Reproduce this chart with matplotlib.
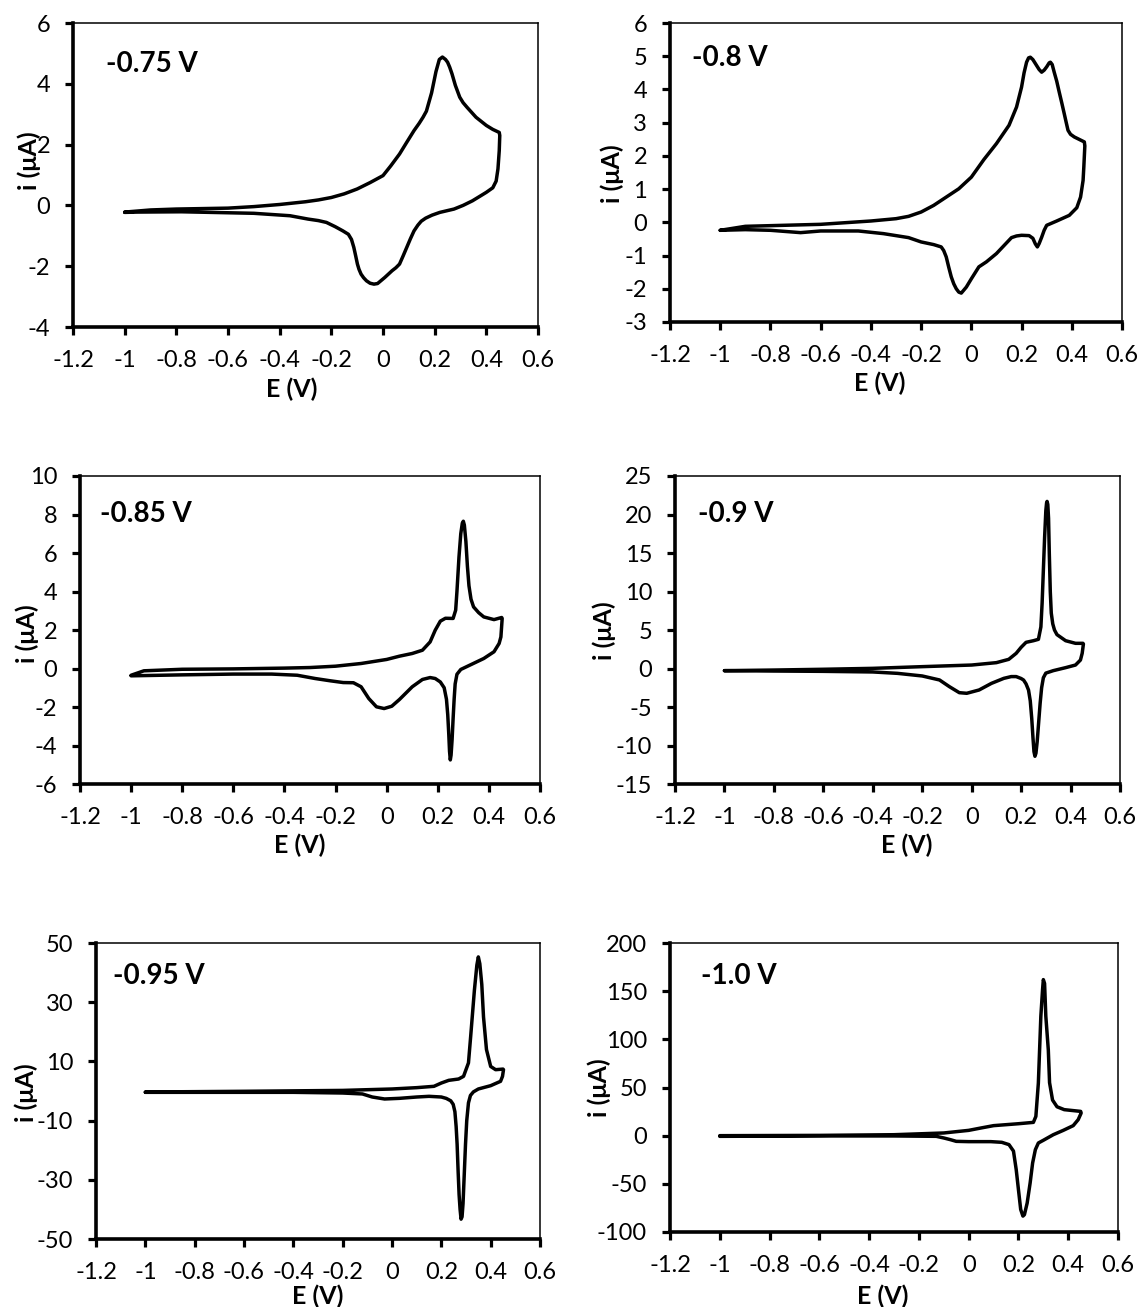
import matplotlib
matplotlib.use("Agg")
import matplotlib.pyplot as plt
from matplotlib.ticker import FuncFormatter, FixedLocator

plt.rcParams['font.family'] = ['Lato', 'DejaVu Sans']

# ---------------- data (E in V, i in uA), forward sweep then reverse sweep ----------------
labels = ["-0.75 V", "-0.8 V", "-0.85 V", "-0.9 V", "-0.95 V", "-1.0 V"]

e_075 = [-1.0, -0.9, -0.8, -0.6, -0.5, -0.4, -0.3, -0.25, -0.2, -0.15, -0.1, -0.05, 0.0, 0.03, 0.064, 0.09,
         0.12, 0.14, 0.155, 0.168, 0.176, 0.188, 0.198, 0.205, 0.218, 0.23, 0.242, 0.25, 0.258, 0.267, 0.28,
         0.297, 0.31, 0.325, 0.36, 0.4, 0.425, 0.45,
         0.452, 0.45, 0.445, 0.438, 0.425, 0.4, 0.375, 0.346, 0.31, 0.275, 0.245, 0.22, 0.19, 0.165, 0.148,
         0.135, 0.12, 0.106, 0.092, 0.078, 0.064, 0.05, 0.035, 0.007, -0.021, -0.035, -0.05, -0.064, -0.075,
         -0.085, -0.093, -0.099, -0.106, -0.113, -0.122, -0.134, -0.155, -0.185, -0.219, -0.25, -0.29, -0.36,
         -0.5, -0.78, -0.95, -1.0]
i_075 = [-0.22, -0.15, -0.12, -0.09, -0.04, 0.03, 0.12, 0.18, 0.26, 0.38, 0.54, 0.75, 0.98, 1.3, 1.69, 2.05,
         2.46, 2.7, 2.9, 3.1, 3.34, 3.7, 4.11, 4.4, 4.8, 4.88, 4.8, 4.71, 4.55, 4.33, 3.95,
         3.56, 3.38, 3.23, 2.9, 2.63, 2.5, 2.4,
         2.3, 1.8, 1.2, 0.8, 0.58, 0.43, 0.3, 0.15, 0.0, -0.12, -0.18, -0.23, -0.32, -0.42, -0.52,
         -0.65, -0.84, -1.1, -1.38, -1.66, -1.93, -2.05, -2.15, -2.37, -2.57, -2.59, -2.56, -2.48, -2.38,
         -2.26, -2.1, -1.93, -1.65, -1.38, -1.12, -0.95, -0.84, -0.7, -0.56, -0.5, -0.45, -0.34,
         -0.26, -0.21, -0.22, -0.23]

e_080 = [-1.0, -0.9, -0.6, -0.4, -0.3, -0.25, -0.2, -0.15, -0.1, -0.05, 0.0, 0.05, 0.1, 0.15, 0.18, 0.2,
         0.21, 0.22, 0.228, 0.235, 0.245, 0.26, 0.27, 0.28, 0.29, 0.3, 0.31, 0.315, 0.322, 0.33, 0.34, 0.35,
         0.36, 0.37, 0.378, 0.385, 0.395, 0.41, 0.45,
         0.452, 0.448, 0.445, 0.435, 0.42, 0.39, 0.34, 0.3, 0.29, 0.28, 0.27, 0.263, 0.255, 0.245, 0.23, 0.2,
         0.18, 0.16, 0.13, 0.1, 0.06, 0.03, 0.0, -0.02, -0.04, -0.05, -0.06, -0.07, -0.08, -0.09, -0.1, -0.11,
         -0.12, -0.15, -0.2, -0.25, -0.35, -0.45, -0.6, -0.68, -0.8, -0.9, -1.0]
i_080 = [-0.24, -0.12, -0.06, 0.04, 0.11, 0.18, 0.31, 0.51, 0.76, 1.01, 1.36, 1.89, 2.37, 2.92, 3.47, 4.07,
         4.5, 4.82, 4.95, 4.97, 4.9, 4.72, 4.6, 4.52, 4.58, 4.68, 4.8, 4.82, 4.75, 4.52, 4.25, 3.92,
         3.6, 3.27, 3.0, 2.77, 2.65, 2.57, 2.42,
         2.3, 1.67, 1.26, 0.76, 0.44, 0.21, 0.04, -0.09, -0.24, -0.45, -0.64, -0.74, -0.65, -0.48, -0.4, -0.39,
         -0.41, -0.46, -0.7, -0.94, -1.19, -1.34, -1.7, -1.95, -2.13, -2.1, -2.0, -1.85, -1.64, -1.35, -1.04, -0.85,
         -0.74, -0.67, -0.59, -0.46, -0.34, -0.26, -0.26, -0.31, -0.24, -0.22, -0.24]

e_085 = [-1.0, -0.95, -0.8, -0.6, -0.4, -0.3, -0.2, -0.1, 0.0, 0.05, 0.1, 0.14, 0.17, 0.19, 0.21, 0.23,
         0.26, 0.27, 0.275, 0.283, 0.29, 0.296, 0.3, 0.304, 0.31, 0.316, 0.322, 0.33, 0.34, 0.36, 0.38, 0.42, 0.45,
         0.452, 0.447, 0.44, 0.42, 0.38, 0.32, 0.29, 0.275, 0.268, 0.264, 0.26, 0.256, 0.252, 0.249, 0.246,
         0.243, 0.239, 0.234, 0.225, 0.21, 0.19, 0.17, 0.14, 0.1, 0.05, 0.02, -0.01, -0.04, -0.07, -0.1, -0.13,
         -0.17, -0.22, -0.28, -0.35, -0.45, -0.6, -0.8, -1.0]
i_085 = [-0.35, -0.12, -0.04, -0.02, 0.02, 0.05, 0.12, 0.26, 0.47, 0.64, 0.78, 0.95, 1.38, 1.99, 2.46, 2.61,
         2.6, 3.03, 4.0, 5.8, 7.0, 7.55, 7.65, 7.45, 6.6, 5.3, 4.3, 3.6, 3.2, 2.9, 2.68, 2.54, 2.65,
         2.6, 1.64, 1.3, 0.87, 0.52, 0.14, -0.05, -0.3, -0.8, -1.6, -2.6, -3.7, -4.5, -4.75, -4.3,
         -3.4, -2.4, -1.6, -1.0, -0.7, -0.52, -0.47, -0.57, -0.95, -1.61, -1.96, -2.08, -1.99, -1.56, -0.95, -0.74,
         -0.73, -0.64, -0.52, -0.35, -0.29, -0.29, -0.33, -0.38]

e_090 = [-1.0, -0.8, -0.6, -0.4, -0.2, 0.0, 0.1, 0.15, 0.18, 0.2, 0.22, 0.25, 0.27, 0.28, 0.285, 0.29, 0.295,
         0.3, 0.303, 0.305, 0.308, 0.311, 0.314, 0.318, 0.322, 0.328, 0.335, 0.345, 0.38, 0.42, 0.45,
         0.452, 0.447, 0.44, 0.42, 0.38, 0.33, 0.3, 0.29, 0.283, 0.277, 0.271, 0.265, 0.26, 0.256, 0.252, 0.248,
         0.243, 0.237, 0.23, 0.22, 0.21, 0.2, 0.18, 0.16, 0.13, 0.08, 0.03, -0.02, -0.05, -0.09, -0.13, -0.2,
         -0.3, -0.4, -0.6, -0.8, -1.0]
i_090 = [-0.28, -0.2, -0.1, 0.02, 0.24, 0.45, 0.76, 1.19, 1.97, 2.75, 3.4, 3.61, 3.79, 5.4, 8.5, 12.77, 17.0,
         20.5, 21.5, 21.7, 21.3, 19.5, 15.0, 10.0, 7.2, 5.8, 5.0, 4.4, 3.61, 3.27, 3.27,
         3.18, 1.97, 1.1, 0.45, 0.11, -0.28, -0.6, -1.2, -2.5, -4.5, -7.0, -9.5, -11.0, -11.4, -10.8, -9.0,
         -6.5, -4.2, -2.8, -2.0, -1.5, -1.3, -1.05, -1.05, -1.28, -1.93, -2.79, -3.22, -3.14, -2.36, -1.49, -0.97,
         -0.63, -0.45, -0.37, -0.33, -0.28]

e_095 = [-1.0, -0.6, -0.2, 0.0, 0.1, 0.17, 0.2, 0.23, 0.27, 0.29, 0.31, 0.319, 0.334, 0.344, 0.35, 0.356,
         0.364, 0.371, 0.383, 0.4, 0.42, 0.45,
         0.452, 0.448, 0.44, 0.4, 0.35, 0.33, 0.318, 0.31, 0.303, 0.298, 0.293, 0.288, 0.284, 0.28, 0.276, 0.272,
         0.268, 0.264, 0.26, 0.255, 0.248, 0.238, 0.22, 0.2, 0.15, 0.1, 0.03, -0.03, -0.08, -0.12, -0.2, -0.4,
         -0.7, -1.0]
i_095 = [-0.34, -0.1, 0.2, 0.68, 1.13, 1.58, 2.7, 3.6, 4.05, 4.95, 9.5, 18.5, 34.0, 42.5, 45.3, 43.0,
         36.0, 25.0, 14.0, 8.3, 7.2, 7.4,
         7.2, 4.95, 3.27, 1.8, 0.68, -0.3, -1.5, -4.0, -10.0, -18.0, -28.0, -38.0, -42.5, -43.3, -40.0, -35.0,
         -27.0, -18.0, -12.0, -7.0, -4.5, -3.3, -2.5, -2.03, -1.8, -2.03, -2.48, -2.7, -2.03, -1.0, -0.68, -0.45,
         -0.45, -0.45]

e_100 = [-1.0, -0.6, -0.3, -0.1, 0.0, 0.05, 0.1, 0.15, 0.2, 0.26, 0.27, 0.28, 0.29, 0.297, 0.3, 0.305, 0.31,
         0.32, 0.325, 0.337, 0.355, 0.384, 0.45,
         0.452, 0.44, 0.42, 0.38, 0.34, 0.3, 0.28, 0.268, 0.257, 0.247, 0.235, 0.224, 0.218, 0.209, 0.2, 0.191,
         0.18, 0.162, 0.133, 0.089, 0.0, -0.05, -0.074, -0.1, -0.13, -0.3, -0.6, -1.0]
i_100 = [0.0, 0.3, 1.0, 2.8, 5.5, 8.0, 10.4, 11.4, 12.4, 13.8, 20.0, 54.6, 124.0, 152.0, 162.0, 158.0, 124.0,
         89.0, 55.0, 37.0, 30.0, 27.0, 25.2,
         23.5, 16.6, 10.4, 5.5, 1.0, -4.8, -7.6, -14.5, -28.3, -49.0, -70.0, -82.0, -83.5, -76.6, -56.0, -35.2,
         -16.0, -9.3, -6.9, -6.2, -6.2, -5.9, -4.1, -2.4, -0.7, -0.3, -0.3, -0.7]

e_series = [e_075, e_080, e_085, e_090, e_095, e_100]
i_series = [i_075, i_080, i_085, i_090, i_095, i_100]

y_ticks = [
    [-4, -2, 0, 2, 4, 6],
    [-3, -2, -1, 0, 1, 2, 3, 4, 5, 6],
    [-6, -4, -2, 0, 2, 4, 6, 8, 10],
    [-15, -10, -5, 0, 5, 10, 15, 20, 25],
    [-50, -30, -10, 10, 30, 50],
    [-100, -50, 0, 50, 100, 150, 200],
]
x_ticks = [-1.2, -1.0, -0.8, -0.6, -0.4, -0.2, 0.0, 0.2, 0.4, 0.6]

# ---------------- layout (pixels in a 1142 x 1307 figure) ----------------
W, H = 1142, 1307
boxes = [  # left, right, top, bottom
    (73, 538, 23, 327),
    (670, 1122, 23, 322),
    (80, 540, 476, 784),
    (675, 1120, 476, 784),
    (96, 540, 943, 1239),
    (670, 1118, 943, 1232),
]
annot_pos = [(0.071, 0.866), (0.048, 0.884), (0.044, 0.878), (0.051, 0.877), (0.039, 0.89), (0.070, 0.886)]
ylabel_pos = [(-0.094, 0.547), (-0.128, 0.496), (-0.115, 0.489), (-0.160, 0.498), (-0.158, 0.493), (-0.157, 0.498)]
xlabel_pos = [(0.47, -0.205), (0.463, -0.206), (0.478, -0.198), (0.52, -0.198), (0.499, -0.194), (0.474, -0.222)]

fig = plt.figure(figsize=(W / 100, H / 100), dpi=100)
fs = 17

def fmt(v, pos):
    s = f"{v:g}"
    if s == "-0":
        s = "0"
    return s

for k in range(6):
    l, r, t, b = boxes[k]
    ax = fig.add_axes([l / W, 1 - b / H, (r - l) / W, (b - t) / H])
    ax.plot(e_series[k], i_series[k], color='black', lw=2.5,
            solid_joinstyle='round', solid_capstyle='round')
    ax.set_xlim(-1.2, 0.6)
    ax.set_ylim(y_ticks[k][0], y_ticks[k][-1])
    ax.xaxis.set_major_locator(FixedLocator(x_ticks))
    ax.yaxis.set_major_locator(FixedLocator(y_ticks[k]))
    ax.xaxis.set_major_formatter(FuncFormatter(fmt))
    ax.yaxis.set_major_formatter(FuncFormatter(fmt))
    for side in ['left', 'bottom']:
        ax.spines[side].set_linewidth(2.6)
    for side in ['top', 'right']:
        ax.spines[side].set_linewidth(1.1)
    ax.tick_params(axis='both', direction='out', length=5.5, width=2.3, labelsize=fs, pad=11)
    ax.tick_params(top=False, right=False)
    ax.set_xlabel("E (V)", fontsize=fs + 1, fontweight='bold')
    ax.set_ylabel("i (μA)", fontsize=fs + 1, fontweight='bold')
    ax.xaxis.set_label_coords(*xlabel_pos[k])
    ax.yaxis.set_label_coords(*ylabel_pos[k])
    ax.xaxis.label.set_va('center')
    ax.yaxis.label.set_va('center')
    ax.text(annot_pos[k][0], annot_pos[k][1], labels[k], transform=ax.transAxes,
            fontsize=20, fontweight='bold', ha='left', va='center')

fig.savefig("out.png", dpi=100, facecolor='white')
